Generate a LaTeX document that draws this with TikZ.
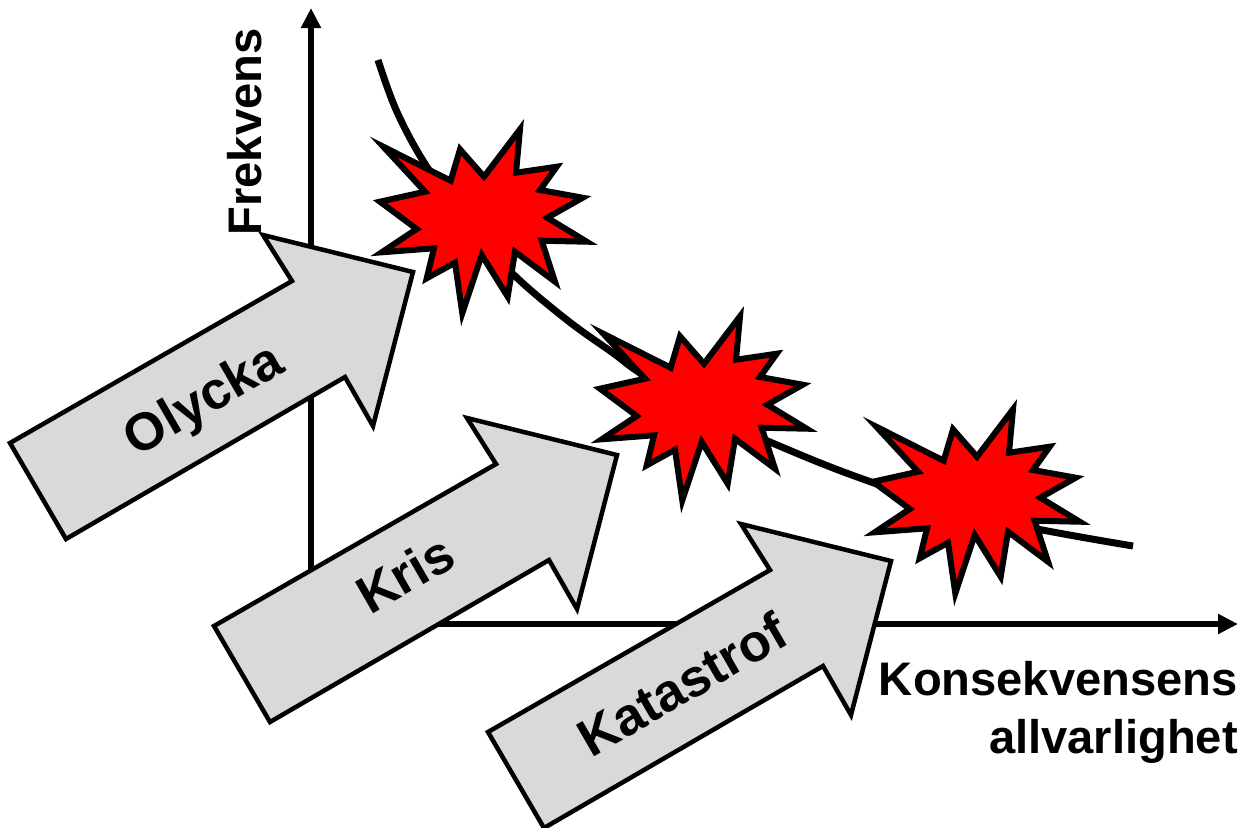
\documentclass[tikz,border=0pt]{standalone}
\usepackage{fontspec}
\setmainfont{Liberation Sans}
\usetikzlibrary{arrows.meta}
\definecolor{burstred}{RGB}{255, 0, 0}
\definecolor{arrowgray}{RGB}{217, 217, 217}
\tikzset{
    axisline/.style={black, line width=0.055cm, -{Triangle[length=0.2cm, width=0.19cm]}},
    riskcurve/.style={black, line width=0.07cm},
    burst/.style={draw=black, fill=burstred, line width=0.06cm, miter limit=25, line join=miter},
    bigarrow/.style={draw=black, fill=arrowgray, line width=0.045cm, line join=miter},
    axislabel/.style={font=\fontsize{13.4pt}{16.4pt}\selectfont\bfseries, text=black, inner sep=0pt},
    arrowlabel/.style={font=\fontsize{15pt}{17pt}\selectfont\bfseries, text=black, inner sep=0pt, rotate=30}
}
\begin{document}
\begin{tikzpicture}[x=0.01cm, y=-0.01cm]
    \useasboundingbox (0, 0) rectangle (1246, 827);
    % Axes
    \coordinate (origin) at (311, 624);
    \coordinate (ytop)   at (311,   8);
    \coordinate (xend)   at (1238, 624);
    \draw[axisline] (origin) -- (ytop);
    \draw[axisline] (origin) -- (xend);
    \node[axislabel, rotate=90] (frekvens) at (245, 132) {Frekvens};
    \node[axislabel, anchor=north east, align=right] (konsekvens) at (1238.5, 661) {Konsekvensens\\allvarlighet};
    % Curve
    \draw[riskcurve] plot[smooth, tension=0.6] coordinates {(378, 60) (397, 112) (427, 167) (470, 225) (513, 274)
        (567, 320) (613, 353) (640, 373) (700, 410) (770, 442) (860, 478) (980, 517) (1133, 546)};
    % Bursts
    \foreach \sx/\sy in {360/110, 580/297, 853/390} {
        \draw[burst, shift={(\sx, \sy)}] (23.3, 36.7) -- (90.7, 70.7) -- (100.0, 39.3) -- (124.0, 66.7)
            -- (160.0, 19.3) -- (156.0, 62.7) -- (196.7, 56.7) -- (180.0, 80.0)
            -- (222.7, 87.7) -- (187.3, 107.7) -- (226.7, 131.7) -- (181.7, 130.7)
            -- (195.0, 171.7) -- (155.0, 141.7) -- (147.7, 186.7) -- (121.7, 145.0)
            -- (102.3, 203.3) -- (95.0, 152.7) -- (66.7, 168.3) -- (74.0, 138.3)
            -- (21.7, 142.3) -- (56.7, 119.0) -- (20.0, 91.7) -- (65.0, 81.7) -- cycle;
    }
    % Arrows
    \foreach \sx/\sy/\lx/\ly/\name/\word in {0/0/205/402/olycka/Olycka, 204/183/405/574/kris/Kris, 478/289/682/684/katastrof/Katastrof} {
        \draw[bigarrow, shift={(\sx, \sy)}] (10, 443) -- (292, 281) -- (263, 235) -- (413, 272)
            -- (373, 426) -- (345, 377) -- (66, 539) -- cycle;
        \node[arrowlabel] (\name) at (\lx, \ly) {\word};
    }
\end{tikzpicture}
\end{document}
